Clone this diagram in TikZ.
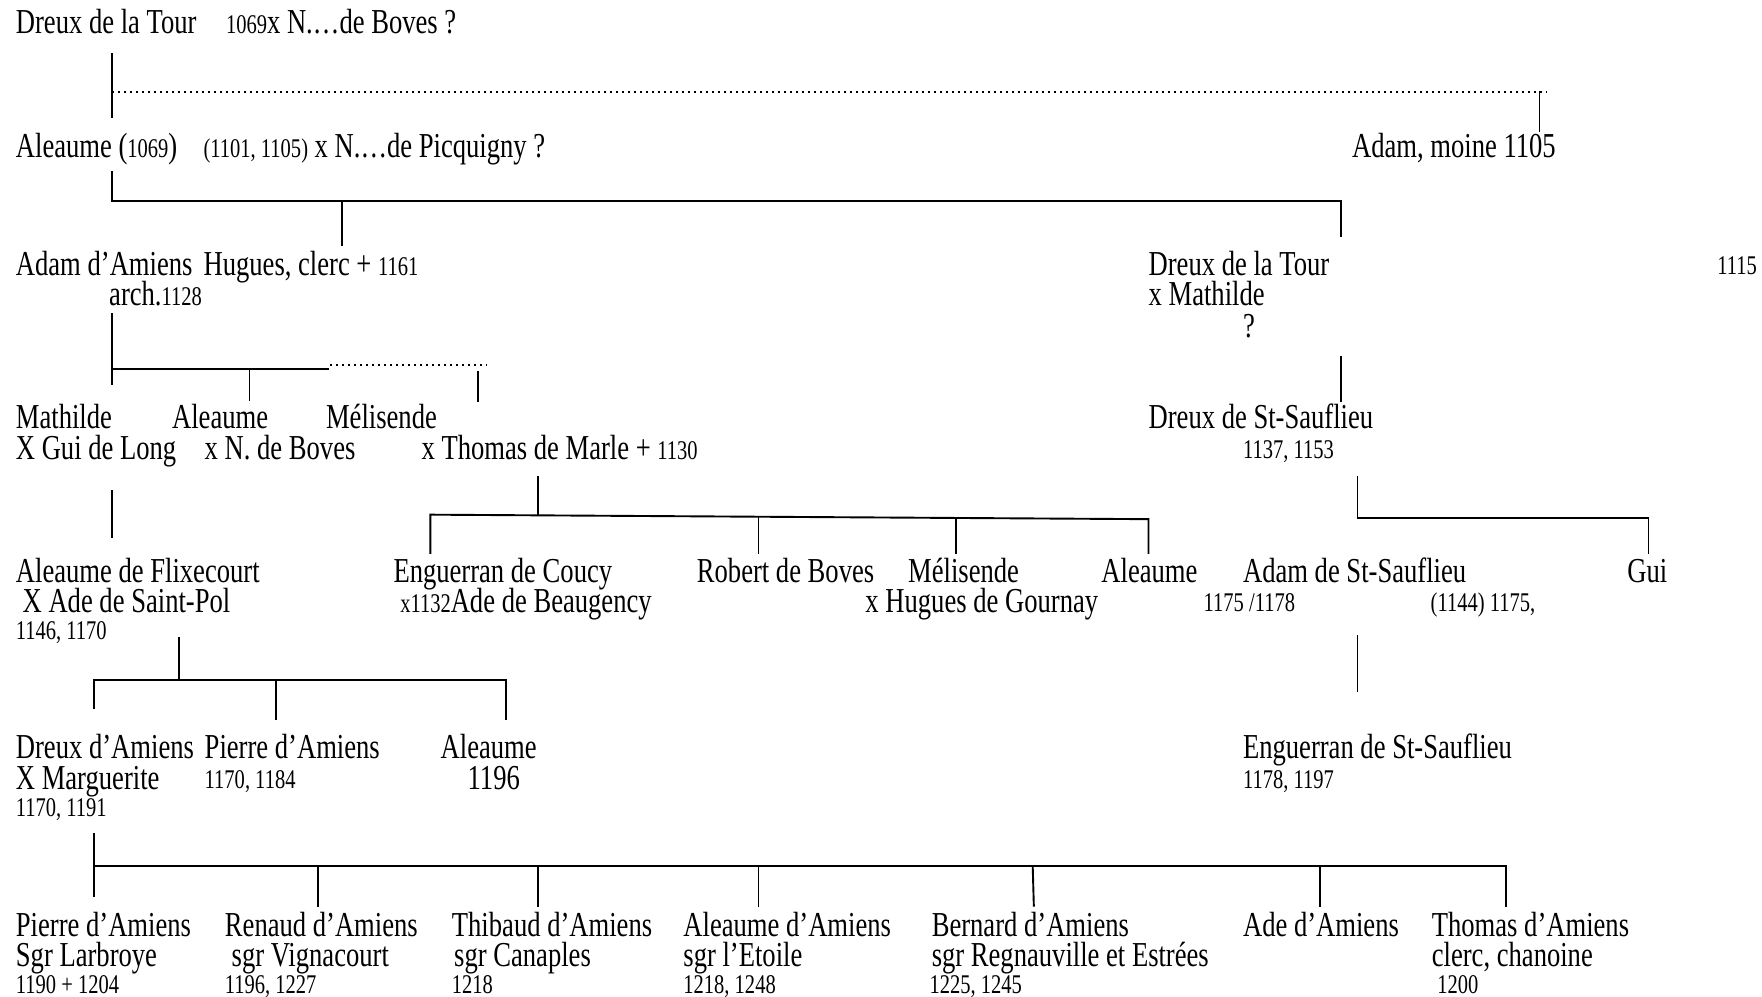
\documentclass[tikz,border=0pt]{standalone}
\usepackage{fontspec}
\setmainfont[FakeStretch=0.76]{Liberation Serif}
\newcommand\mainsz{\fontsize{35}{40}\selectfont}
\newcommand\smallsz{\fontsize{27}{31}\selectfont}
\tikzset{
  tx/.style={anchor=base west, inner sep=0pt, font=\mainsz},
  sx/.style={anchor=base west, inner sep=0pt, font=\smallsz},
  ln/.style={line width=1.9pt, line cap=rect},
  dt/.style={line width=1.9pt, dash pattern=on 1.8pt off 4.2pt}
}
\begin{document}
\begin{tikzpicture}[x=1.1237pt, y=-1.1237pt]
\useasboundingbox (0,0) rectangle (1568,887);
% ---------- texts ----------
\node[tx] (dreux1) at (14,30) {Dreux de la Tour};
\node[tx] (dreux1b) at (201,30) {{\smallsz 1069}x N.…de Boves ?};
\node[tx] (aleaume1) at (14,140) {Aleaume ({\smallsz 1069})};
\node[tx] (aleaume1b) at (181,140) {{\smallsz (1101, 1105)} x N.…de Picquigny ?};
\node[tx] (adammoine) at (1203,140) {Adam, moine 1105};
\node[tx] (adamam) at (14,245) {Adam d’Amiens};
\node[tx] (hugues) at (181,245) {Hugues, clerc + {\smallsz 1161}};
\node[tx] (arch) at (97,272) {arch.{\smallsz 1128}};
\node[tx] (dreux2) at (1022,245) {Dreux de la Tour};
\node[tx] (dreux2b) at (1022,272) {x Mathilde};
\node[tx] (dreux2q) at (1106,300) {?};
\node[sx] (d1115) at (1528,244) {1115};
\node[tx] (mathilde) at (14,381) {Mathilde};
\node[tx] (mathildeb) at (14,409) {X Gui de Long};
\node[tx] (aleaume2) at (153,381) {Aleaume};
\node[tx] (aleaume2b) at (182,409) {x N. de Boves};
\node[tx] (melis1) at (290,381) {Mélisende};
\node[tx] (melis1b) at (375,409) {x Thomas de Marle + {\smallsz 1130}};
\node[tx] (dreuxss) at (1022,381) {Dreux de St-Sauflieu};
\node[sx] (dreuxssb) at (1106,408) {1137, 1153};
\node[tx] (flix) at (14,518) {Aleaume de Flixecourt};
\node[tx] (flixb) at (20,545) {X Ade de Saint-Pol};
\node[sx] (flixc) at (14,569) {1146, 1170};
\node[tx] (coucy) at (350,518) {Enguerran de Coucy};
\node[tx] (coucyb) at (356,545) {{\smallsz x1132}Ade de Beaugency};
\node[tx] (robert) at (620,518) {Robert de Boves};
\node[tx] (melis2) at (808,518) {Mélisende};
\node[tx] (melis2b) at (770,545) {x Hugues de Gournay};
\node[tx] (aleaume3) at (980,518) {Aleaume};
\node[sx] (aleaume3b) at (1071,544) {1175 /1178};
\node[tx] (adamss) at (1106,518) {Adam de St-Sauflieu};
\node[sx] (adamssb) at (1273,544) {(1144) 1175,};
\node[tx] (gui) at (1448,518) {Gui};
\node[tx] (dreuxam) at (14,675) {Dreux d’Amiens};
\node[tx] (dreuxamb) at (14,703) {X Marguerite};
\node[sx] (dreuxamc) at (14,727) {1170, 1191};
\node[tx] (pierre1) at (182,675) {Pierre d’Amiens};
\node[sx] (pierre1b) at (182,702) {1170, 1184};
\node[tx] (aleaume4) at (392,675) {Aleaume};
\node[tx] (aleaume4b) at (416,703) {1196};
\node[tx] (enguss) at (1106,675) {Enguerran de St-Sauflieu};
\node[sx] (engussb) at (1106,702) {1178, 1197};
\node[tx] (pierre2) at (14,833) {Pierre d’Amiens};
\node[tx] (pierre2b) at (14,860.5) {Sgr Larbroye};
\node[sx] (pierre2c) at (14,884.5) {1190 + 1204};
\node[tx] (renaud) at (200,833) {Renaud d’Amiens};
\node[tx] (renaudb) at (206,860.5) {sgr Vignacourt};
\node[sx] (renaudc) at (200,884.5) {1196, 1227};
\node[tx] (thibaud) at (402,833) {Thibaud d’Amiens};
\node[tx] (thibaudb) at (404,860.5) {sgr Canaples};
\node[sx] (thibaudc) at (402,884.5) {1218};
\node[tx] (aleaume5) at (608,833) {Aleaume d’Amiens};
\node[tx] (aleaume5b) at (608,860.5) {sgr l’Etoile};
\node[sx] (aleaume5c) at (608,884.5) {1218, 1248};
\node[tx] (bernard) at (829,833) {Bernard d’Amiens};
\node[tx] (bernardb) at (829,860.5) {sgr Regnauville et Estrées};
\node[sx] (bernardc) at (827,884.5) {1225, 1245};
\node[tx] (ade) at (1106,833) {Ade d’Amiens};
\node[tx] (thomas) at (1274,833) {Thomas d’Amiens};
\node[tx] (thomasb) at (1274,860.5) {clerc, chanoine};
\node[sx] (thomasc) at (1279,884.5) {1200};
% ---------- connector coordinates ----------
\coordinate (a1) at (100,48);  \coordinate (a2) at (100,104);
\coordinate (a3) at (100,82);  \coordinate (a4) at (1377,82);
\coordinate (a5) at (1370,82); \coordinate (a6) at (1370,117);
\coordinate (b1) at (100,153); \coordinate (b2) at (100,179);
\coordinate (b3) at (1193,179); \coordinate (b4) at (1193,210);
\coordinate (b5) at (304,179); \coordinate (b6) at (304,218);
\coordinate (c1) at (100,279); \coordinate (c2) at (100,342);
\coordinate (c3) at (100,328); \coordinate (c4) at (292,328);
\coordinate (c5) at (294,325); \coordinate (c6) at (433,325);
\coordinate (c7) at (222,328); \coordinate (c8) at (222,356);
\coordinate (c9) at (425,331); \coordinate (c10) at (425,357);
\coordinate (d1) at (1193,318); \coordinate (d2) at (1193,357);
\coordinate (e1) at (100,437); \coordinate (e2) at (100,478);
\coordinate (f1) at (479,424); \coordinate (f2) at (479,458);
\coordinate (f3) at (383,458); \coordinate (f4) at (1022,462);
\coordinate (f5) at (383,492); \coordinate (f6) at (675,460);
\coordinate (f7) at (675,492); \coordinate (f8) at (851,461);
\coordinate (f9) at (851,492); \coordinate (f10) at (1022,492);
\coordinate (g1) at (1208,424); \coordinate (g2) at (1208,461);
\coordinate (g3) at (1467,461); \coordinate (g4) at (1467,492);
\coordinate (h1) at (159,568); \coordinate (h2) at (159,605);
\coordinate (h3) at (84,605);  \coordinate (h4) at (450,605);
\coordinate (h5) at (84,630);  \coordinate (h6) at (246,605);
\coordinate (h7) at (246,640); \coordinate (h8) at (450,640);
\coordinate (i1) at (1208,566); \coordinate (i2) at (1208,615);
\coordinate (j1) at (84,742);  \coordinate (j2) at (84,797);
\coordinate (j3) at (84,771);  \coordinate (j4) at (1340,771);
\coordinate (k1) at (283,771); \coordinate (k2) at (283,806);
\coordinate (k3) at (479,771); \coordinate (k4) at (479,806);
\coordinate (k5) at (675,771); \coordinate (k6) at (675,806);
\coordinate (k7) at (919,771); \coordinate (k8) at (920,806);
\coordinate (k9) at (1175,771); \coordinate (k10) at (1175,806);
\coordinate (k11) at (1340,771); \coordinate (k12) at (1340,806);
% ---------- connectors ----------
\draw[ln] (a1) -- (a2);
\draw[dt] (a3) -- (a4);
\draw[ln] (a5) -- (a6);
\draw[ln] (b1) -- (b2) -- (b3) -- (b4);
\draw[ln] (b5) -- (b6);
\draw[ln] (c1) -- (c2);
\draw[ln] (c3) -- (c4);
\draw[dt] (c5) -- (c6);
\draw[ln] (c7) -- (c8);
\draw[ln] (c9) -- (c10);
\draw[ln] (d1) -- (d2);
\draw[ln] (e1) -- (e2);
\draw[ln] (f1) -- (f2);
\draw[ln] (f5) -- (f3) -- (f4) -- (f10);
\draw[ln] (f6) -- (f7);
\draw[ln] (f8) -- (f9);
\draw[ln] (g1) -- (g2) -- (g3) -- (g4);
\draw[ln] (h1) -- (h2);
\draw[ln] (h5) -- (h3) -- (h4) -- (h8);
\draw[ln] (h6) -- (h7);
\draw[ln] (i1) -- (i2);
\draw[ln] (j1) -- (j2);
\draw[ln] (j3) -- (j4) -- (k12);
\draw[ln] (k1) -- (k2);
\draw[ln] (k3) -- (k4);
\draw[ln] (k5) -- (k6);
\draw[ln] (k7) -- (k8);
\draw[ln] (k9) -- (k10);
\end{tikzpicture}
\end{document}
